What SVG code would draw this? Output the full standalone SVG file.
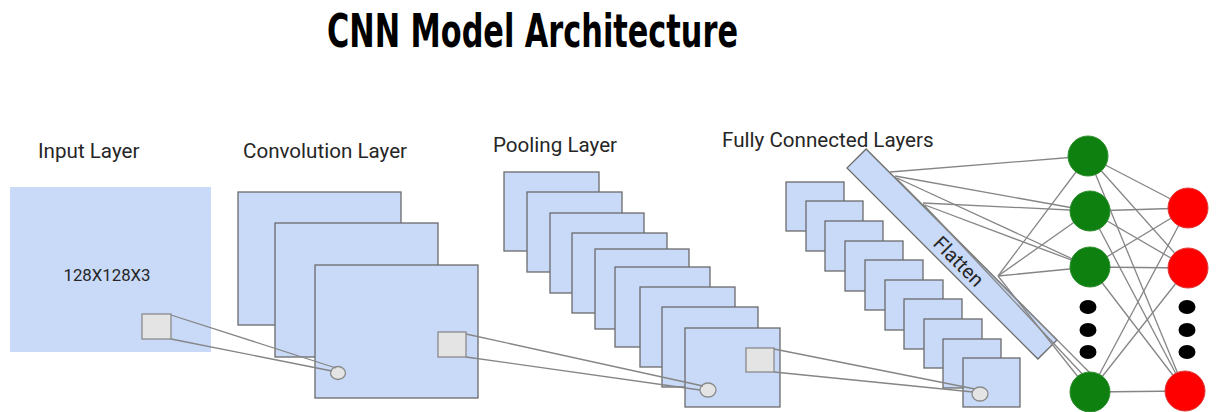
<svg xmlns="http://www.w3.org/2000/svg" width="1217" height="412" viewBox="0 0 1217 412">
<defs>
<style>
.lbl{font-family:Roboto,"Liberation Sans",sans-serif;font-size:20.6px;fill:#262626}
.map{fill:#c9daf8;stroke:#6b6b6b;stroke-width:1.3}
.k{fill:#e4e4e4;stroke:#8a8a8a;stroke-width:1.3}
.c{stroke:#858585;stroke-width:1.3;fill:none}
.g{fill:#0d800f;stroke:#2e8f30;stroke-width:1}
.r{fill:#fe0000;stroke:#e03a3a;stroke-width:1}
.dot{fill:#000}
</style>
</defs>
<rect width="1217" height="412" fill="#fff"/>
<text x="327" y="47" font-family="'DejaVu Sans','Liberation Sans',sans-serif" font-weight="bold" font-size="46" font-stretch="condensed" textLength="411" lengthAdjust="spacingAndGlyphs" fill="#000">CNN Model Architecture</text>

<g id="input-layer">
<text class="lbl" x="38" y="158">Input Layer</text>
<rect x="10" y="187" width="201" height="165" fill="#c9daf8"/>
<text x="107" y="281" text-anchor="middle" font-family="Roboto,'Liberation Sans',sans-serif" font-size="16.8" fill="#262626">128X128X3</text>
<rect class="k" x="142" y="314" width="29" height="25"/>
</g>

<g id="convolution-layer">
<text class="lbl" x="243" y="158">Convolution Layer</text>
<rect class="map" x="238" y="192" width="163" height="133"/>
<rect class="map" x="275" y="223" width="163" height="134"/>
<rect class="map" x="315" y="265" width="163" height="133"/>
<ellipse class="k" cx="338" cy="373" rx="7.5" ry="6.5"/>
<rect class="k" x="438" y="332" width="28" height="25"/>
</g>

<g id="pooling-layer">
<text class="lbl" x="493" y="152">Pooling Layer</text>
<rect class="map" x="504" y="172" width="95" height="79"/>
<rect class="map" x="527" y="192" width="95" height="80"/>
<rect class="map" x="550" y="213" width="94" height="80"/>
<rect class="map" x="572" y="233" width="95" height="80"/>
<rect class="map" x="595" y="249" width="94" height="80"/>
<rect class="map" x="615" y="267" width="95" height="80"/>
<rect class="map" x="640" y="287" width="95" height="80"/>
<rect class="map" x="662" y="307" width="96" height="80"/>
<rect class="map" x="685" y="328" width="95" height="79"/>
<ellipse class="k" cx="708" cy="390" rx="8" ry="7"/>
<rect class="k" x="746" y="348" width="28" height="24"/>
</g>

<g id="fully-connected-layers">
<text class="lbl" x="722" y="147">Fully Connected Layers</text>
<rect class="map" x="786" y="182" width="58" height="49"/>
<rect class="map" x="806" y="201" width="57" height="50"/>
<rect class="map" x="825" y="221" width="58" height="50"/>
<rect class="map" x="845" y="241" width="58" height="50"/>
<rect class="map" x="865" y="260" width="58" height="50"/>
<rect class="map" x="885" y="280" width="58" height="50"/>
<rect class="map" x="904" y="299" width="58" height="50"/>
<rect class="map" x="924" y="319" width="58" height="49"/>
<rect class="map" x="943" y="339" width="58" height="49"/>
<rect class="map" x="963" y="358" width="57" height="49"/>
<ellipse class="k" cx="980" cy="394" rx="8" ry="7"/>
</g>

<g id="flatten" transform="translate(952,254) rotate(45)">
<rect class="map" x="-135" y="-13.5" width="270" height="27"/>
<text x="10" y="7.5" text-anchor="middle" font-family="Roboto,'Liberation Sans',sans-serif" font-size="20" fill="#262626">Flatten</text>
</g>

<g id="connectors" class="c">
<line x1="171" y1="315" x2="336" y2="368"/>
<line x1="171" y1="339" x2="332" y2="371"/>
<line x1="466" y1="334" x2="703" y2="386"/>
<line x1="466" y1="357" x2="700" y2="390"/>
<line x1="774" y1="349" x2="975" y2="389"/>
<line x1="774" y1="372" x2="973" y2="392"/>
<line x1="890" y1="172" x2="1088" y2="156"/>
<line x1="895" y1="176" x2="1090" y2="211"/>
<line x1="923" y1="203" x2="1090" y2="211"/>
<line x1="897" y1="178" x2="1090" y2="267"/>
<line x1="925" y1="205" x2="1090" y2="267"/>
<line x1="998" y1="276" x2="1088" y2="156"/>
<line x1="998" y1="276" x2="1090" y2="211"/>
<line x1="998" y1="276" x2="1090" y2="267"/>
<line x1="895" y1="177" x2="1092" y2="375"/>
<line x1="923" y1="204" x2="1086" y2="378"/>
<line x1="998" y1="276" x2="1090" y2="392"/>
<line x1="1088" y1="156" x2="1188" y2="208"/>
<line x1="1088" y1="156" x2="1188" y2="268"/>
<line x1="1088" y1="156" x2="1185" y2="391"/>
<line x1="1090" y1="211" x2="1188" y2="208"/>
<line x1="1090" y1="211" x2="1188" y2="268"/>
<line x1="1090" y1="211" x2="1185" y2="391"/>
<line x1="1090" y1="267" x2="1188" y2="208"/>
<line x1="1090" y1="267" x2="1188" y2="268"/>
<line x1="1090" y1="267" x2="1185" y2="391"/>
<line x1="1090" y1="392" x2="1188" y2="208"/>
<line x1="1090" y1="392" x2="1188" y2="268"/>
<line x1="1090" y1="392" x2="1185" y2="391"/>
</g>

<g id="hidden-neurons">
<circle class="g" cx="1088" cy="156" r="20"/>
<circle class="g" cx="1090" cy="211" r="20"/>
<circle class="g" cx="1090" cy="267" r="20"/>
<ellipse class="dot" cx="1088" cy="307" rx="8.5" ry="7"/>
<ellipse class="dot" cx="1088" cy="330" rx="8.5" ry="7"/>
<ellipse class="dot" cx="1088" cy="352" rx="8.5" ry="7"/>
<circle class="g" cx="1090" cy="392" r="20"/>
</g>

<g id="output-neurons">
<circle class="r" cx="1188" cy="208" r="20"/>
<circle class="r" cx="1188" cy="268" r="20"/>
<ellipse class="dot" cx="1187" cy="307" rx="8.5" ry="7"/>
<ellipse class="dot" cx="1187" cy="330" rx="8.5" ry="7"/>
<ellipse class="dot" cx="1187" cy="352" rx="8.5" ry="7"/>
<circle class="r" cx="1185" cy="391" r="20"/>
</g>
</svg>
